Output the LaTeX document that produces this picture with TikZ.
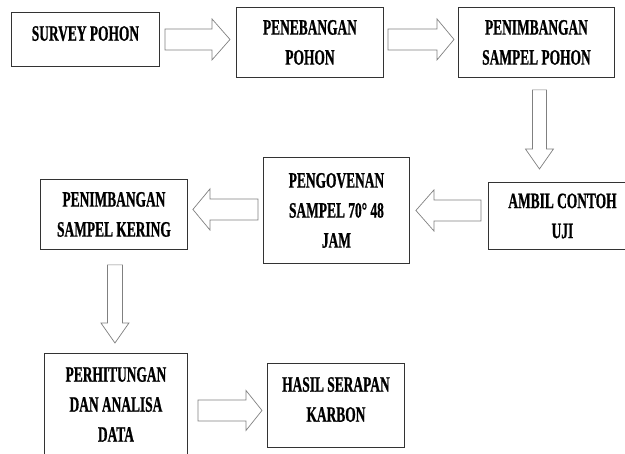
\documentclass[tikz,border=0pt]{standalone}
\usepackage{fontspec}
\setmainfont{Liberation Serif}[FakeStretch=0.61, BoldFeatures={FakeBold=0.8}]
\usepackage{tikz}
\usetikzlibrary{calc}

\begin{document}
\begin{tikzpicture}[x=1pt, y=-1pt,
  every node/.style={font=\bfseries\fontsize{22}{30}\selectfont},
  box/.style={draw=black!80, line width=0.9pt, align=center,
              inner sep=0pt, anchor=north west},
  fatarrow/.style n args={3}{draw=black!50, line width=0.7pt, fill=white,
    to path={let \p1=(\tikztostart), \p2=(\tikztotarget),
      \n1={veclen(\x2-\x1,\y2-\y1)}, \n2={(\x2-\x1)/\n1}, \n3={(\y2-\y1)/\n1} in
      ({\x1-\n3*#1},{\y1+\n2*#1})
      -- ({\x2-\n2*#3-\n3*#1},{\y2-\n3*#3+\n2*#1})
      -- ({\x2-\n2*#3-\n3*#2},{\y2-\n3*#3+\n2*#2})
      -- (\x2,\y2)
      -- ({\x2-\n2*#3+\n3*#2},{\y2-\n3*#3-\n2*#2})
      -- ({\x2-\n2*#3+\n3*#1},{\y2-\n3*#3-\n2*#1})
      -- ({\x1+\n3*#1},{\y1-\n2*#1}) -- cycle}},
]
\useasboundingbox (0,0) rectangle (625,454);
\clip (0,0) rectangle (625,454);

% Row 1
\node[box, minimum width=148, minimum height=54, text depth=12pt] (survey) at (11,12) {SURVEY POHON};
\node[box, minimum width=147, minimum height=70] (tebang) at (236,7) {PENEBANGAN\\POHON};
\node[box, minimum width=156, minimum height=70] (timbang) at (458,7) {PENIMBANGAN\\SAMPEL POHON};

% Row 2
\node[box, minimum width=148, minimum height=67] (ambil) at (488,182) {AMBIL CONTOH\\UJI};
\node[box, minimum width=146, minimum height=106] (oven) at (263,157) {PENGOVENAN\\SAMPEL 70° 48\\JAM};
\node[box, minimum width=147, minimum height=70] (kering) at (40,179) {PENIMBANGAN\\SAMPEL KERING};

% Row 3
\node[box, minimum width=143, minimum height=102] (hitung) at (44,353) {PERHITUNGAN\\DAN ANALISA\\DATA};
\node[box, minimum width=137, minimum height=84, text depth=12pt] (hasil) at (267,363) {HASIL SERAPAN\\KARBON};

% block arrows
\draw[fatarrow={10.5}{20.5}{18}] ($(survey.east)+(5,0)$) to ($(survey.east -| tebang.west)+(-6,0)$);
\draw[fatarrow={10.5}{20.5}{17}] ($(survey.east -| tebang.east)+(4,0)$) to ($(survey.east -| timbang.west)+(-4,0)$);
\draw[fatarrow={7}{14}{20}] ($(timbang.south)+(3,12)$) to ($(timbang.south |- ambil.north)+(3,-13)$);
\draw[fatarrow={10.5}{20.5}{18}] ($(oven.east -| ambil.west)+(-7,0)$) to ($(oven.east)+(6,0)$);
\draw[fatarrow={10.5}{20.5}{17}] ($(oven.west)+(-5,-1)$) to ($(oven.west -| kering.east)+(5,-1)$);
\draw[fatarrow={7.5}{14}{20}] ($(kering.south)+(1,15)$) to ($(kering.south |- hitung.north)+(1,-10)$);
\draw[fatarrow={10.5}{20}{16}] ($(hitung.east)+(10,6)$) to ($(hitung.east -| hasil.west)+(-5,6)$);
\end{tikzpicture}
\end{document}
